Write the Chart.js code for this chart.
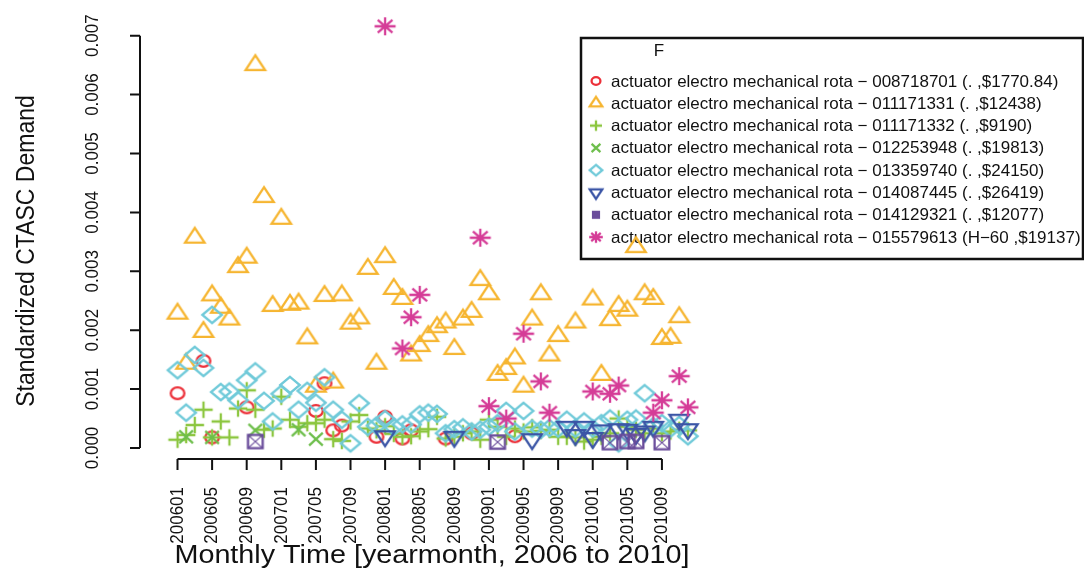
<!DOCTYPE html>
<html>
<head>
<meta charset="utf-8">
<script src="https://cdn.jsdelivr.net/npm/chart.js@4/dist/chart.umd.min.js"></script>
<style>
  html, body { margin: 0; padding: 0; background: #fff; }
  canvas { display: block; }
</style>
</head>
<body>
<canvas id="demandChart" width="1084" height="572" style="width:1084px;height:572px"></canvas>
<script>
// Monthly categories (yearmonth)
const months = [
  '200601','200602','200603','200604','200605','200606','200607','200608','200609','200610','200611','200612',
  '200701','200702','200703','200704','200705','200706','200707','200708','200709','200710','200711','200712',
  '200801','200802','200803','200804','200805','200806','200807','200808','200809','200810','200811','200812',
  '200901','200902','200903','200904','200905','200906','200907','200908','200909','200910','200911','200912',
  '201001','201002','201003','201004','201005','201006','201007','201008','201009','201010','201011','201012'
];
const xTickLabels = ['200601','200605','200609','200701','200705','200709','200801','200805',
  '200809','200901','200905','200909','201001','201005','201009'];
const yTickValues = [0, 0.001, 0.002, 0.003, 0.004, 0.005, 0.006, 0.007];
const yTickLabels = ['0.000','0.001','0.002','0.003','0.004','0.005','0.006','0.007'];

// Standardized demand per part number, one value per month (null = no point)
const s008718701 = [
  0.00093, null, null, 0.00148, 0.00018, null, null, null, 0.00069, null,
  null, null, null, null, null, null, 0.00063, 0.00110, 0.00030, 0.00038,
  null, null, null, 0.00019, 0.00053, null, 0.00016, 0.00030, null, null,
  null, 0.00016, null, null, 0.00025, null, null, null, null, 0.00020,
  null, null, null, null, null, null, null, null, null, null,
  null, null, null, null, null, null, null, null, null, null
];
const s011171331 = [
  0.00228, 0.00143, 0.00357, 0.00197, 0.00259, 0.00238, 0.00218, 0.00307, 0.00323, 0.00650,
  0.00426, 0.00241, 0.00389, 0.00243, 0.00245, 0.00186, 0.00104, 0.00258, 0.00111, 0.00259,
  0.00211, 0.00220, 0.00304, 0.00143, 0.00324, 0.00270, 0.00253, 0.00157, 0.00173, 0.00190,
  0.00205, 0.00213, 0.00168, 0.00218, 0.00231, 0.00285, 0.00261, 0.00124, 0.00134, 0.00152,
  0.00104, 0.00218, 0.00261, 0.00157, 0.00190, null, 0.00213, null, 0.00252, 0.00124,
  0.00217, 0.00241, 0.00233, 0.00341, 0.00261, 0.00253, 0.00185, 0.00187, 0.00222, null
];
const s011171332 = [
  0.00014, 0.00022, 0.00039, 0.00065, 0.00018, 0.00045, 0.00018, 0.00067, 0.00098, 0.00065,
  0.00031, 0.00033, 0.00087, 0.00048, 0.00036, 0.00042, 0.00042, 0.00048, 0.00015, 0.00012,
  0.00045, 0.00056, 0.00033, 0.00030, 0.00037, 0.00024, 0.00019, 0.00020, 0.00028, 0.00032,
  0.00053, 0.00016, 0.00019, 0.00025, 0.00028, 0.00014, 0.00048, 0.00036, 0.00019, 0.00033,
  0.00028, 0.00035, 0.00029, 0.00031, 0.00019, 0.00019, 0.00018, 0.00011, 0.00014, 0.00019,
  0.00025, 0.00050, 0.00036, 0.00031, 0.00025, 0.00033, 0.00025, 0.00028, 0.00031, 0.00030
];
const s012253948 = [
  null, 0.00019, null, null, 0.00018, null, null, null, null, 0.00030,
  null, null, null, null, 0.00031, null, 0.00015, null, null, null,
  null, null, null, null, null, null, null, null, null, null,
  null, null, null, null, null, null, null, null, null, null,
  null, null, null, null, null, null, null, null, null, null,
  null, null, null, null, null, null, null, null, null, null
];
const s013359740 = [
  0.00132, 0.00060, 0.00158, 0.00136, 0.00226, 0.00095, 0.00096, 0.00081, 0.00115, 0.00130,
  0.00080, 0.00045, 0.00092, 0.00107, 0.00065, 0.00097, 0.00077, 0.00120, 0.00065, 0.00048,
  0.00008, 0.00076, 0.00036, 0.00038, 0.00049, 0.00036, 0.00040, 0.00040, 0.00057, 0.00060,
  0.00058, 0.00025, 0.00032, 0.00035, 0.00028, 0.00031, 0.00036, 0.00042, 0.00063, 0.00028,
  0.00063, 0.00033, 0.00031, 0.00034, 0.00033, 0.00048, 0.00033, 0.00045, 0.00033, 0.00042,
  0.00050, 0.00008, 0.00048, 0.00050, 0.00093, 0.00037, 0.00042, 0.00033, 0.00039, 0.00020
];
const s014087445 = [
  null, null, null, null, null, null, null, null, null, null,
  null, null, null, null, null, null, null, null, null, null,
  null, null, null, null, 0.00020, null, null, null, null, null,
  null, null, 0.00019, null, null, null, null, null, null, null,
  null, 0.00015, null, null, null, 0.00036, 0.00022, 0.00036, 0.00017, 0.00030,
  null, 0.00032, 0.00031, 0.00024, 0.00028, 0.00036, null, null, 0.00048, 0.00032
];
const s014129321 = [
  null, null, null, null, null, null, null, null, null, 0.00011,
  null, null, null, null, null, null, null, null, null, null,
  null, null, null, null, null, null, null, null, null, null,
  null, null, null, null, null, null, null, 0.00010, null, null,
  null, null, null, null, null, null, null, null, null, null,
  0.00009, null, 0.00011, 0.00011, null, null, 0.00009, null, null, null
];
const s015579613 = [
  null, null, null, null, null, null, null, null, null, null,
  null, null, null, null, null, null, null, null, null, null,
  null, null, null, null, 0.00716, null, 0.00169, 0.00222, 0.00260, null,
  null, null, null, null, null, 0.00357, 0.00071, null, 0.00050, null,
  0.00194, null, 0.00113, 0.00060, null, null, null, null, 0.00096, null,
  0.00092, 0.00106, null, null, null, 0.00060, 0.00081, null, 0.00122, 0.00069
];

const legendLabels = [
  'actuator electro mechanical rota \u2212 008718701 (. ,$1770.84)',
  'actuator electro mechanical rota \u2212 011171331 (. ,$12438)',
  'actuator electro mechanical rota \u2212 011171332 (. ,$9190)',
  'actuator electro mechanical rota \u2212 012253948 (. ,$19813)',
  'actuator electro mechanical rota \u2212 013359740 (. ,$24150)',
  'actuator electro mechanical rota \u2212 014087445 (. ,$26419)',
  'actuator electro mechanical rota \u2212 014129321 (. ,$12077)',
  'actuator electro mechanical rota \u2212 015579613 (H\u221260 ,$19137)'
];

const FONT = "'Liberation Sans', Arial, sans-serif";
const SX = 1.12; // the picture is slightly wider than tall

// draw an R-like plotting symbol into a little canvas, centred on its anchor
function makeSymbol(kind, color, k, lw) {
  const c = document.createElement('canvas');
  c.width = 30; c.height = 30;
  const g = c.getContext('2d');
  const cx = 15, cy = 15;
  g.strokeStyle = color;
  g.fillStyle = color;
  g.lineWidth = lw;
  g.beginPath();
  if (kind === 'circle') {
    g.ellipse(cx, cy, 6.5 * k, 5.6 * k, 0, 0, Math.PI * 2);
  } else if (kind === 'tri' || kind === 'invtri') {
    const w = 18.5 * k, h = 14 * k, d = kind === 'tri' ? 1 : -1;
    g.moveTo(cx, cy - d * 2 * h / 3);
    g.lineTo(cx + w / 2, cy + d * h / 3);
    g.lineTo(cx - w / 2, cy + d * h / 3);
    g.closePath();
  } else if (kind === 'plus') {
    g.moveTo(cx - 8.8 * k, cy); g.lineTo(cx + 8.8 * k, cy);
    g.moveTo(cx, cy - 7.8 * k); g.lineTo(cx, cy + 7.8 * k);
  } else if (kind === 'x') {
    g.moveTo(cx - 6.5 * k, cy - 6 * k); g.lineTo(cx + 6.5 * k, cy + 6 * k);
    g.moveTo(cx - 6.5 * k, cy + 6 * k); g.lineTo(cx + 6.5 * k, cy - 6 * k);
  } else if (kind === 'diamond') {
    g.moveTo(cx, cy - 7.8 * k); g.lineTo(cx + 9.3 * k, cy);
    g.lineTo(cx, cy + 7.8 * k); g.lineTo(cx - 9.3 * k, cy);
    g.closePath();
  } else if (kind === 'boxx') {
    g.rect(cx - 7 * k, cy - 6.3 * k, 14 * k, 12.6 * k);
    g.stroke();
    g.beginPath();
    g.lineWidth = lw * 0.5;
    g.moveTo(cx - 7 * k, cy - 6.3 * k); g.lineTo(cx + 7 * k, cy + 6.3 * k);
    g.moveTo(cx - 7 * k, cy + 6.3 * k); g.lineTo(cx + 7 * k, cy - 6.3 * k);
  } else if (kind === 'box') {
    g.fillRect(cx - 6 * k, cy - 6 * k, 12 * k, 12 * k);
    return c;
  } else if (kind === 'star') {
    g.moveTo(cx - 10 * k, cy); g.lineTo(cx + 10 * k, cy);
    g.moveTo(cx, cy - 8.5 * k); g.lineTo(cx, cy + 8.5 * k);
    g.moveTo(cx - 7 * k, cy - 6 * k); g.lineTo(cx + 7 * k, cy + 6 * k);
    g.moveTo(cx - 7 * k, cy + 6 * k); g.lineTo(cx + 7 * k, cy - 6 * k);
  }
  g.stroke();
  return c;
}

const seriesValues = [s008718701, s011171331, s011171332, s012253948,
  s013359740, s014087445, s014129321, s015579613];
const seriesColors = ['#EC3039', '#F6B530', '#8CC63F', '#6DBE4B', '#70CAD9', '#3B55A6', '#6A4C9B', '#D53C97'];
const plotKinds = ['circle', 'tri', 'plus', 'x', 'diamond', 'invtri', 'boxx', 'star'];
const legendKinds = ['circle', 'tri', 'plus', 'x', 'diamond', 'invtri', 'box', 'star'];

const datasets = seriesValues.map((vals, k) => ({
  label: legendLabels[k],
  data: vals.map((v, i) => (v === null ? null : { x: i, y: v })).filter(p => p !== null),
  pointStyle: makeSymbol(plotKinds[k], seriesColors[k], 1.05, 2.3),
  pointRadius: 9,
  order: 8 - k, // later series on top, like R
  clip: false
}));

// axes, titles and legend drawn R style (axis lines only between first and last tick)
const rStyle = {
  id: 'rStyle',
  beforeDatasetsDraw(chart) {
    const ctx = chart.ctx;
    const xs = chart.scales.x, ys = chart.scales.y;
    const area = chart.chartArea;
    ctx.save();
    ctx.strokeStyle = '#111';
    ctx.fillStyle = '#111';
    ctx.lineWidth = 2;

    // y axis
    const y0 = ys.getPixelForValue(yTickValues[0]);
    const y1 = ys.getPixelForValue(yTickValues[yTickValues.length - 1]);
    ctx.beginPath();
    ctx.moveTo(area.left, y0); ctx.lineTo(area.left, y1);
    yTickValues.forEach(v => {
      const py = ys.getPixelForValue(v);
      ctx.moveTo(area.left, py); ctx.lineTo(area.left - 10, py);
    });
    ctx.stroke();
    ctx.font = '17px ' + FONT;
    ctx.textAlign = 'center';
    ctx.textBaseline = 'middle';
    yTickValues.forEach((v, j) => {
      ctx.save();
      ctx.translate(93, ys.getPixelForValue(v));
      ctx.rotate(-Math.PI / 2);
      ctx.scale(1, SX);
      ctx.fillText(yTickLabels[j], 0, 0);
      ctx.restore();
    });

    // x axis
    const xPos = xTickLabels.map(l => xs.getPixelForValue(months.indexOf(l)));
    ctx.beginPath();
    ctx.moveTo(xPos[0], area.bottom); ctx.lineTo(xPos[xPos.length - 1], area.bottom);
    xPos.forEach(px => { ctx.moveTo(px, area.bottom); ctx.lineTo(px, area.bottom + 11); });
    ctx.stroke();
    ctx.font = '17px ' + FONT;
    ctx.textAlign = 'right';
    xTickLabels.forEach((l, j) => {
      ctx.save();
      ctx.translate(xPos[j], 487);
      ctx.rotate(-Math.PI / 2);
      ctx.scale(1, SX);
      ctx.fillText(l, 0, 0);
      ctx.restore();
    });

    // titles
    ctx.textAlign = 'center';
    ctx.font = '25px ' + FONT;
    ctx.save();
    ctx.translate(432, 556);
    ctx.scale(1.15, 1);
    ctx.fillText('Monthly Time [yearmonth, 2006 to 2010]', 0, 0);
    ctx.restore();
    ctx.font = '23px ' + FONT;
    ctx.save();
    ctx.translate(27, 251);
    ctx.rotate(-Math.PI / 2);
    ctx.scale(1, SX);
    ctx.fillText('Standardized CTASC Demand', 0, 0);
    ctx.restore();

    // legend box
    ctx.fillStyle = '#fff';
    ctx.fillRect(581, 38, 502, 221);
    ctx.lineWidth = 2.5;
    ctx.strokeRect(581, 38, 502, 221);
    ctx.fillStyle = '#111';
    ctx.font = '17px ' + FONT;
    ctx.fillText('F', 659, 51);
    ctx.textAlign = 'left';
    ctx.font = '16.5px ' + FONT;
    legendLabels.forEach((label, k) => {
      const ly = 81 + k * 22.3;
      const sym = makeSymbol(legendKinds[k], seriesColors[k], 0.68, 2.3);
      ctx.drawImage(sym, 596 - sym.width / 2, ly - sym.height / 2);
      ctx.save();
      ctx.translate(611, ly + 1);
      ctx.scale(1.03, 1);
      ctx.fillText(label, 0, 0);
      ctx.restore();
    });
    ctx.restore();
  }
};

const chart = new Chart(document.getElementById('demandChart').getContext('2d'), {
  type: 'scatter',
  data: { datasets: datasets },
  options: {
    responsive: false,
    animation: false,
    layout: { padding: { left: 140, right: 384, top: 10, bottom: 113 } },
    plugins: { legend: { display: false }, tooltip: { enabled: false } },
    scales: {
      x: { type: 'linear', display: false, min: -4.335, max: 60.40 },
      y: { type: 'linear', display: false, min: -0.000187, max: 0.007436 }
    }
  },
  plugins: [rStyle]
});
</script>
</body>
</html>
